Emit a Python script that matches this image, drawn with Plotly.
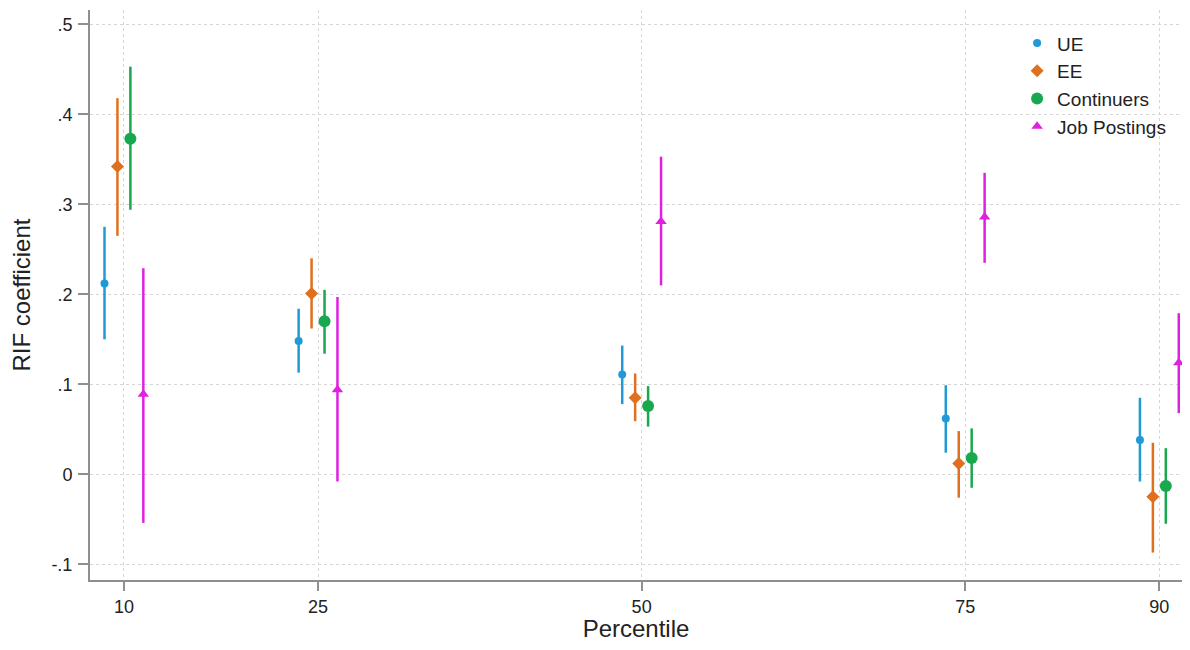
import plotly.graph_objects as go

percentiles = [10, 25, 50, 75, 90]
series_names = ["UE", "EE", "Continuers", "Job Postings"]

ue_coef = [0.212, 0.148, 0.111, 0.062, 0.038]
ue_hi = [0.275, 0.184, 0.143, 0.099, 0.085]
ue_lo = [0.150, 0.113, 0.078, 0.024, -0.008]

ee_coef = [0.342, 0.201, 0.085, 0.012, -0.025]
ee_hi = [0.418, 0.240, 0.112, 0.048, 0.035]
ee_lo = [0.265, 0.162, 0.059, -0.026, -0.087]

cont_coef = [0.373, 0.170, 0.076, 0.018, -0.013]
cont_hi = [0.453, 0.205, 0.098, 0.051, 0.029]
cont_lo = [0.294, 0.134, 0.053, -0.015, -0.055]

job_coef = [0.089, 0.094, 0.281, 0.286, 0.124]
job_hi = [0.229, 0.197, 0.353, 0.335, 0.179]
job_lo = [-0.054, -0.008, 0.210, 0.235, 0.068]

ytick_vals = [-0.1, 0, 0.1, 0.2, 0.3, 0.4, 0.5]
ytick_text = ["-.1", "0", ".1", ".2", ".3", ".4", ".5"]

offsets = [-1.5, -0.5, 0.5, 1.5]
colors = ["#1f9ad6", "#e0701e", "#18a84e", "#e020e0"]
symbols = ["circle", "diamond", "circle", "triangle-up"]
sizes = [8, 10, 12, 10]
data = [(ue_coef, ue_hi, ue_lo), (ee_coef, ee_hi, ee_lo),
        (cont_coef, cont_hi, cont_lo), (job_coef, job_hi, job_lo)]

fig = go.Figure()
for name, off, col, sym, sz, (c, hi, lo) in zip(series_names, offsets, colors, symbols, sizes, data):
    fig.add_trace(go.Scatter(
        x=[p + off for p in percentiles], y=c, mode="markers", name=name,
        marker=dict(color=col, symbol=sym, size=sz, line=dict(width=0)),
        error_y=dict(type="data", symmetric=False,
                     array=[h - v for h, v in zip(hi, c)],
                     arrayminus=[v - l for v, l in zip(c, lo)],
                     color=col, thickness=2.5, width=0),
        cliponaxis=False,
    ))

font_family = "Liberation Sans, Arial, sans-serif"
fig.update_layout(
    width=1174, height=634,
    margin=dict(l=82, r=0, t=2, b=62),
    paper_bgcolor="white", plot_bgcolor="white",
    font=dict(family=font_family, color="#222"),
    showlegend=True,
    legend=dict(x=0.849, y=0.975, xanchor="left", yanchor="top",
                bgcolor="rgba(255,255,255,0)", font=dict(size=19, color="#222"),
                itemsizing="trace", tracegroupgap=0),
    xaxis=dict(
        range=[7.38, 91.75], tickmode="array", tickvals=percentiles,
        ticktext=[str(p) for p in percentiles],
        showgrid=True, gridcolor="#d6d6d6", griddash="dot", gridwidth=1,
        showline=True, linecolor="#8f8f8f", linewidth=2,
        ticks="outside", ticklen=9, tickcolor="#8f8f8f", tickwidth=1.5,
        tickfont=dict(size=18), zeroline=False, automargin=False,
        title=dict(text="Percentile", font=dict(size=24), standoff=5),
    ),
    yaxis=dict(
        range=[-0.1175, 0.516], tickmode="array", tickvals=ytick_vals, ticktext=ytick_text,
        showgrid=True, gridcolor="#d6d6d6", griddash="dot", gridwidth=1,
        showline=True, linecolor="#8f8f8f", linewidth=2,
        ticks="outside", ticklen=10, tickcolor="#8f8f8f", tickwidth=1.5,
        tickfont=dict(size=18), zeroline=False, automargin=False,
        ticklabelstandoff=2,
        title=dict(text="RIF coefficient", font=dict(size=24), standoff=18),
    ),
)

fig.write_html("out.html")
